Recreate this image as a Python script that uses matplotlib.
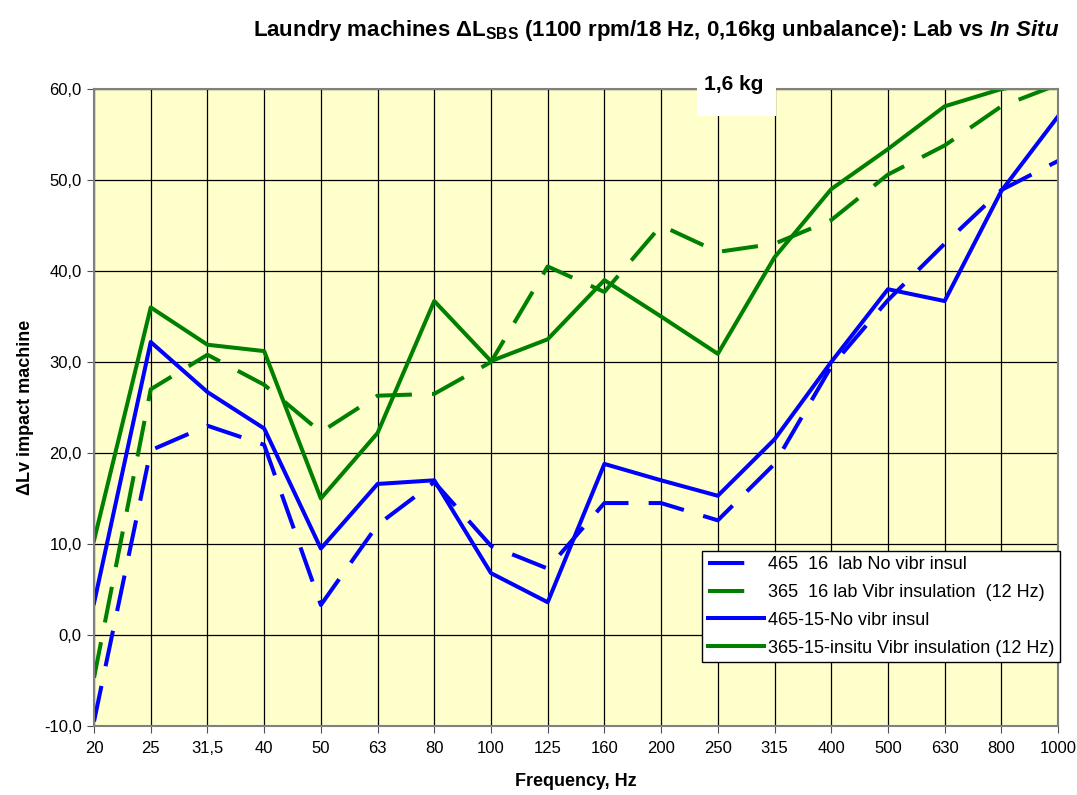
import matplotlib.pyplot as plt
from matplotlib.patches import Rectangle

plt.rcParams['font.family'] = ['Liberation Sans', 'DejaVu Sans']
plt.rcParams['mathtext.fontset'] = 'custom'
plt.rcParams['mathtext.rm'] = 'Liberation Sans:bold'
plt.rcParams['mathtext.it'] = 'Liberation Sans:bold:italic'
plt.rcParams['mathtext.bf'] = 'Liberation Sans:bold'

# Data
freqs = ["20", "25", "31,5", "40", "50", "63", "80", "100", "125", "160",
         "200", "250", "315", "400", "500", "630", "800", "1000"]
lab_465 = [-9.5, 20.3, 23.0, 20.9, 3.3, 12.1, 16.8, 9.8, 7.3, 14.5,
           14.5, 12.6, 18.8, 29.5, 36.8, 43.0, 48.9, 52.1]
lab_365 = [-4.7, 27.0, 30.8, 27.5, 22.3, 26.3, 26.5, 30.0, 40.5, 37.7,
           45.0, 42.1, 43.0, 45.6, 50.6, 53.8, 58.1, 60.5]
situ_465 = [3.5, 32.2, 26.7, 22.7, 9.5, 16.6, 17.0, 6.8, 3.6, 18.8,
            17.0, 15.3, 21.5, 30.0, 38.0, 36.7, 48.8, 57.0]
situ_365 = [10.4, 36.0, 31.9, 31.2, 15.0, 22.2, 36.7, 30.1, 32.5, 39.0,
            35.0, 30.9, 41.5, 49.0, 53.4, 58.1, 60.0, 61.0]

x = list(range(len(freqs)))

fig = plt.figure(figsize=(10.77, 7.95), dpi=100)
ax = fig.add_axes([0.0873, 0.0868, 0.8951, 0.8012])
ax.set_facecolor('#FFFFCC')

lw = 2.9
ax.plot(x, lab_465, color='#0000FF', lw=lw, dashes=(9, 5), label='465  16  lab No vibr insul')
ax.plot(x, lab_365, color='#008000', lw=lw, dashes=(9, 5), label='365  16 lab Vibr insulation  (12 Hz)')
ax.plot(x, situ_465, color='#0000FF', lw=lw, label='465-15-No vibr insul')
ax.plot(x, situ_365, color='#008000', lw=lw, label='365-15-insitu Vibr insulation (12 Hz)')

ax.set_xlim(0, len(freqs) - 1)
ax.set_ylim(-10, 60)
ax.set_xticks(x)
ax.set_xticklabels(freqs)
yt = list(range(-10, 61, 10))
ax.set_yticks(yt)
ax.set_yticklabels([f"{v},0" for v in yt])
ax.tick_params(labelsize=12, length=5, color='#505050', pad=6)
ax.tick_params(axis='y', pad=4)
ax.grid(True, color='black', lw=0.9)
ax.set_axisbelow(True)
for s in ax.spines.values():
    s.set_color('#808080')
    s.set_linewidth(1.5)

ax.set_xlabel("Frequency, Hz", fontsize=13, fontweight='bold', labelpad=12)
ax.set_ylabel("ΔLv impact machine", fontsize=13, fontweight='bold', labelpad=7)

fig.text(656 / 1077, 0.962,
         r"Laundry machines ΔL$_{\mathrm{SBS}}$ (1100 rpm/18 Hz, 0,16kg unbalance): Lab vs $\mathit{In\ Situ}$",
         ha='center', va='center', fontsize=16, fontweight='bold')

# white label box at the top of the plot
fig.add_artist(Rectangle((697 / 1077, 1 - 116 / 795), 79 / 1077, 50 / 795,
                         transform=fig.transFigure, facecolor='white',
                         edgecolor='none', zorder=5))
fig.text(734 / 1077, 1 - 85 / 795, "1,6 kg", ha='center', va='center',
         fontsize=15, fontweight='bold', zorder=6)

leg = ax.legend(loc='lower left', bbox_to_anchor=(0.631, 0.1005), fontsize=13,
                frameon=True, fancybox=False, edgecolor='black', framealpha=1,
                handlelength=3.1, handletextpad=0.25, borderpad=0.3,
                labelspacing=0.6, borderaxespad=0)
leg.get_frame().set_linewidth(1.0)

fig.savefig("out.png", dpi=100)
